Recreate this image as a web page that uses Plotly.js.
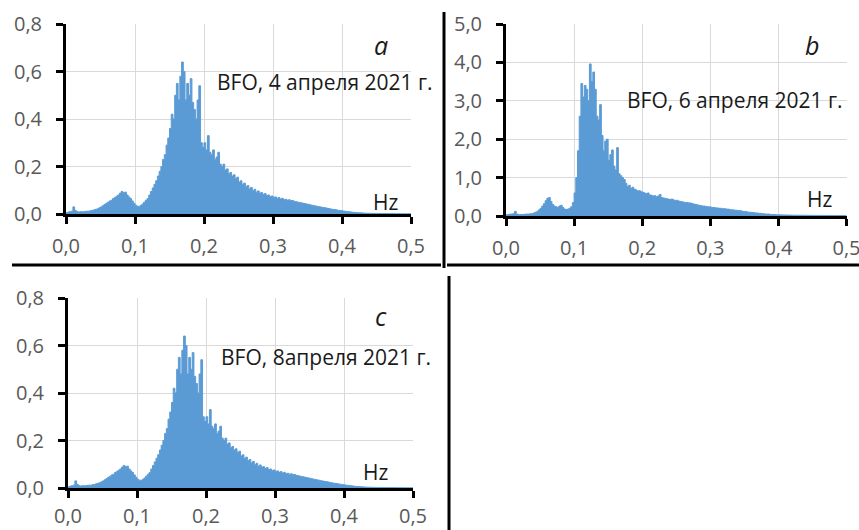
<!DOCTYPE html>
<html>
<head>
<meta charset="utf-8">
<script src="https://cdn.plot.ly/plotly-3.0.1.min.js"></script>
<style>html,body{margin:0;padding:0;background:#fff}#chart{width:859px;height:530px}</style>
</head>
<body>
<div id="chart"></div>
<script>
// Frequency grid start/step (Hz)
const freqStart = 0;
const freqStep = 0.0025;

// Spectrum, BFO, 4 April 2021 (panel a)
const spectrumA = [
  0.005,0.008,0.010,0.012,0.030,0.015,0.010,0.008,0.010,0.009,
  0.010,0.011,0.012,0.012,0.014,0.015,0.018,0.020,0.022,0.026,
  0.030,0.035,0.040,0.045,0.050,0.055,0.058,0.065,0.070,0.075,
  0.080,0.088,0.095,0.090,0.092,0.080,0.072,0.065,0.055,0.045,
  0.037,0.033,0.032,0.036,0.042,0.050,0.058,0.065,0.080,0.095,
  0.110,0.125,0.140,0.160,0.180,0.200,0.230,0.250,0.290,0.320,
  0.360,0.420,0.400,0.500,0.550,0.480,0.580,0.640,0.600,0.480,
  0.550,0.500,0.570,0.470,0.440,0.400,0.480,0.540,0.300,0.280,
  0.300,0.270,0.330,0.260,0.250,0.270,0.230,0.240,0.260,0.210,
  0.200,0.210,0.185,0.190,0.170,0.175,0.160,0.165,0.150,0.155,
  0.135,0.140,0.125,0.130,0.115,0.120,0.105,0.112,0.098,0.104,
  0.092,0.097,0.088,0.090,0.082,0.086,0.078,0.080,0.073,0.076,
  0.070,0.072,0.066,0.069,0.063,0.066,0.060,0.062,0.058,0.060,
  0.056,0.057,0.053,0.052,0.050,0.048,0.047,0.045,0.044,0.042,
  0.041,0.039,0.037,0.036,0.034,0.033,0.031,0.030,0.028,0.027,
  0.026,0.024,0.023,0.021,0.020,0.019,0.018,0.016,0.015,0.014,
  0.013,0.012,0.011,0.010,0.009,0.008,0.007,0.0065,0.006,0.0055,
  0.005,0.0045,0.004,0.0035,0.0032,0.003,0.0028,0.0026,0.0025,0.0024,
  0.0023,0.0022,0.0021,0.002,0.002,0.0019,0.0018,0.0018,0.0017,0.0016,
  0.0016,0.0015,0.0015,0.0014,0.0014,0.0013,0.0013,0.0012,0.0012,0.0011,
  0.001
];

// Spectrum, BFO, 6 April 2021 (panel b)
const spectrumB = [
  0.03,0.04,0.05,0.05,0.06,0.12,0.05,0.04,0.04,0.04,
  0.04,0.05,0.05,0.05,0.06,0.06,0.08,0.10,0.12,0.16,
  0.20,0.26,0.32,0.40,0.46,0.48,0.38,0.30,0.26,0.24,
  0.22,0.26,0.28,0.22,0.18,0.17,0.18,0.20,0.24,0.35,
  0.60,1.00,1.70,2.60,3.45,3.10,3.40,3.30,3.00,3.96,
  3.50,3.75,3.30,2.60,2.50,2.90,2.10,1.70,1.95,2.00,
  1.45,1.60,1.72,1.30,1.20,1.78,1.10,1.05,1.00,0.95,
  0.85,0.77,0.80,0.72,0.75,0.70,0.68,0.65,0.66,0.63,
  0.62,0.60,0.58,0.60,0.55,0.54,0.52,0.53,0.50,0.52,
  0.56,0.48,0.47,0.46,0.45,0.44,0.43,0.44,0.42,0.40,
  0.41,0.39,0.38,0.37,0.36,0.35,0.35,0.34,0.34,0.32,
  0.31,0.30,0.29,0.28,0.27,0.26,0.26,0.25,0.24,0.24,
  0.23,0.22,0.22,0.21,0.21,0.20,0.20,0.19,0.19,0.18,
  0.18,0.17,0.16,0.16,0.15,0.15,0.14,0.14,0.13,0.12,
  0.12,0.11,0.10,0.10,0.09,0.09,0.08,0.08,0.07,0.07,
  0.06,0.06,0.05,0.05,0.05,0.04,0.04,0.04,0.035,0.03,
  0.03,0.03,0.028,0.027,0.026,0.025,0.024,0.023,0.022,0.021,
  0.02,0.02,0.019,0.019,0.018,0.018,0.017,0.017,0.016,0.016,
  0.016,0.015,0.015,0.015,0.015,0.014,0.014,0.014,0.014,0.013,
  0.013,0.013,0.013,0.012,0.012,0.012,0.012,0.012,0.011,0.011,
  0.011
];

// Spectrum, BFO, 8 April 2021 (panel c) – same shape as panel a in the figure
const spectrumC = spectrumA.slice();

// Texts
const panelLetters = ["a", "b", "c"];
const panelLabels = ["BFO, 4 апреля 2021 г.", "BFO, 6 апреля 2021 г.", "BFO, 8апреля 2021 г."];
const unitLabel = "Hz";

// ---------- layout helpers (pixel -> paper) ----------
const W = 859, H = 530;
const px = x => x / W;
const py = y => 1 - y / H;

const BLUE = "#5B9BD5";
const FONT = "Open Sans";
const TICKSIZE = 20;
const TEXTSIZE = 21;

function trace(values, xa, ya) {
  return {
    type: "scatter", mode: "lines",
    x0: freqStart, dx: freqStep, y: values,
    xaxis: xa, yaxis: ya,
    line: {color: BLUE, width: 1, shape: "hv"},
    fill: "tozeroy", fillcolor: BLUE,
    hoverinfo: "skip", showlegend: false
  };
}

function xAxis(domain, anchor, standoff) {
  return {
    domain: domain, anchor: anchor, range: [0, 0.5], dtick: 0.1, tick0: 0,
    tickformat: ".1f", showline: true, linecolor: "#000", linewidth: 3,
    ticks: "outside", ticklen: 7, tickwidth: 3, tickcolor: "#000",
    showgrid: true, gridcolor: "#d9d9d9", gridwidth: 1, zeroline: false,
    tickfont: {family: FONT, size: TICKSIZE, color: "#595959"},
    ticklabelstandoff: standoff, ticklabeloverflow: "allow", fixedrange: true
  };
}
function yAxis(domain, anchor, max, step) {
  return {
    domain: domain, anchor: anchor, range: [0, max], dtick: step, tick0: 0,
    tickformat: ".1f", showline: true, linecolor: "#000", linewidth: 3,
    ticks: "outside", ticklen: 7, tickwidth: 3, tickcolor: "#000",
    showgrid: true, gridcolor: "#d9d9d9", gridwidth: 1, zeroline: false,
    tickfont: {family: FONT, size: TICKSIZE, color: "#595959"},
    ticklabelstandoff: 10, ticklabeloverflow: "allow", fixedrange: true
  };
}

const data = [
  trace(spectrumA, "x", "y"),
  trace(spectrumB, "x2", "y2"),
  trace(spectrumC, "x3", "y3")
];

function ann(text, x, y, size, italic) {
  return {
    xref: "paper", yref: "paper", x: px(x), y: py(y),
    xanchor: "center", yanchor: "middle", showarrow: false,
    text: italic ? "<i>" + text + "</i>" : text,
    font: {family: FONT, size: size, color: "#1a1a1a"}
  };
}

function line(x0, y0, x1, y1) {
  return {type: "line", xref: "paper", yref: "paper",
    x0: px(x0), y0: py(y0), x1: px(x1), y1: py(y1),
    line: {color: "#000", width: 3}};
}

const layout = {
  width: W, height: H,
  margin: {l: 0, r: 0, t: 0, b: 0},
  paper_bgcolor: "#fff", plot_bgcolor: "#fff",
  separators: ", ",
  showlegend: false,
  xaxis: xAxis([px(66), px(411)], "y", 5),
  yaxis: yAxis([py(214), py(24)], "x", 0.8, 0.2),
  xaxis2: xAxis([px(506), px(846.5)], "y2", 5),
  yaxis2: yAxis([py(216), py(24)], "x2", 5, 1),
  xaxis3: xAxis([px(68), px(413)], "y3", 1),
  yaxis3: yAxis([py(488), py(298)], "x3", 0.8, 0.2),
  annotations: [
    ann(panelLetters[0], 381, 45, 25, true),
    ann(panelLetters[1], 812, 45, 25, true),
    ann(panelLetters[2], 381, 316, 25, true),
    ann(panelLabels[0], 325, 82, TEXTSIZE, false),
    ann(panelLabels[1], 735, 100, TEXTSIZE, false),
    ann(panelLabels[2], 326, 357, TEXTSIZE, false),
    ann(unitLabel, 385, 202, TEXTSIZE, false),
    ann(unitLabel, 819, 199, TEXTSIZE, false),
    ann(unitLabel, 375, 472, TEXTSIZE, false)
  ],
  shapes: [
    line(12, 265, 441, 265),
    line(444, 12, 444, 268),
    line(447, 265, 859, 265),
    line(449, 276, 449, 530)
  ]
};

Plotly.newPlot("chart", data, layout, {staticPlot: true, displayModeBar: false});
</script>
</body>
</html>
